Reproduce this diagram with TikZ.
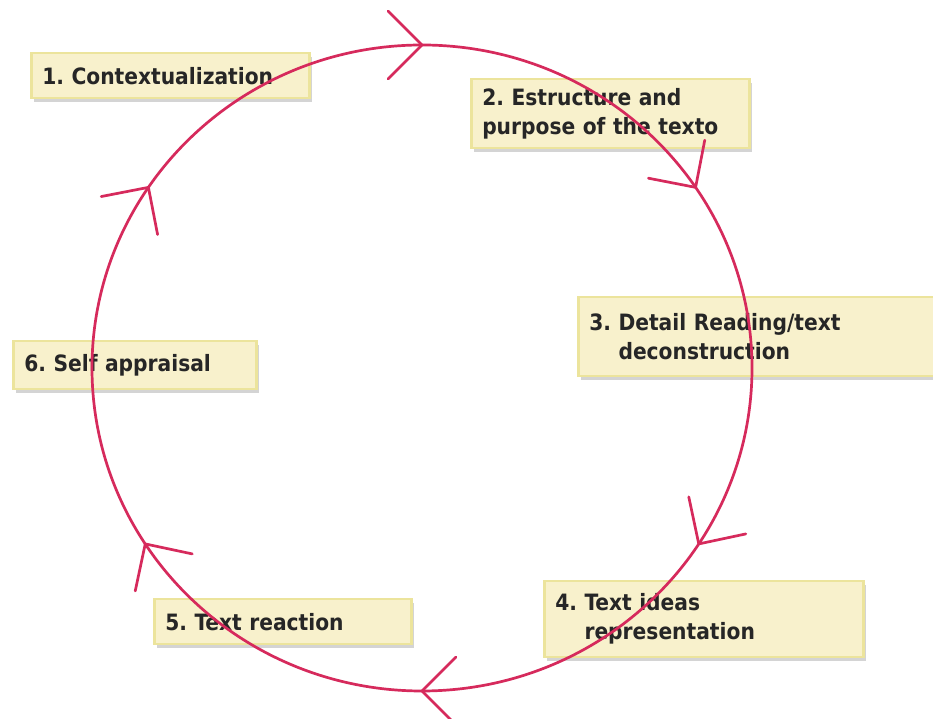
\documentclass[tikz,border=0pt]{standalone}
\usepackage{fontspec}
\setmainfont{DejaVu Sans Condensed}
\usetikzlibrary{shadows,calc}
\definecolor{cyclered}{HTML}{D62A5C}
\definecolor{boxfill}{HTML}{F8F1CC}
\definecolor{boxedge}{HTML}{ECE49C}
\tikzset{
  stagebox/.style={anchor=north west, fill=boxfill, draw=boxedge, line width=2.5pt,
    inner xsep=11pt, inner ysep=0pt, align=left,
    font=\bfseries\fontsize{22.5}{29}\selectfont\frenchspacing, text=black!85,
    drop shadow={shadow xshift=3pt, shadow yshift=-4pt, opacity=0.3, fill=black!55}},
  cycleline/.style={draw=cyclered, line width=2.7pt},
  barb/.style={draw=cyclered, line width=2.7pt, line cap=round, line join=miter}
}
\begin{document}
\begin{tikzpicture}[x=1pt,y=1pt]
  \useasboundingbox (0,0) rectangle (933,719);
  \fill[white] (0,0) rectangle (933,719);

  % the six stages
  \node[stagebox, text width=256pt, minimum height=45pt] (s1) at (30,667) {1. Contextualization};
  \node[stagebox, text width=256pt, minimum height=69pt] (s2) at (470,641) {2. Estructure and\\purpose of the texto};
  \node[stagebox, text width=340pt, minimum height=79pt] (s3) at (577,423) {3. Detail Reading/text\\\phantom{3. }deconstruction};
  \node[stagebox, text width=297pt, minimum height=76pt] (s4) at (543,139) {4. Text ideas\\\phantom{4. }representation};
  \node[stagebox, text width=235pt, minimum height=45pt] (s5) at (153,121) {5. Text reaction};
  \node[stagebox, text width=221pt, minimum height=48pt] (s6) at (12,379) {6. Self appraisal};

  % the cycle
  \coordinate (c) at (422,351);
  \draw[cycleline] (c) ellipse [x radius=330pt, y radius=323pt];

  % open barbs, running clockwise
  \foreach \a in {90,34,-33,-90,-147,146} {
    \draw[barb, shift={($(c)+(\a:330pt and 323pt)$)}, rotate=\a-90]
      (-34,34) -- (0,0) -- (-34,-34);
  }
\end{tikzpicture}
\end{document}
